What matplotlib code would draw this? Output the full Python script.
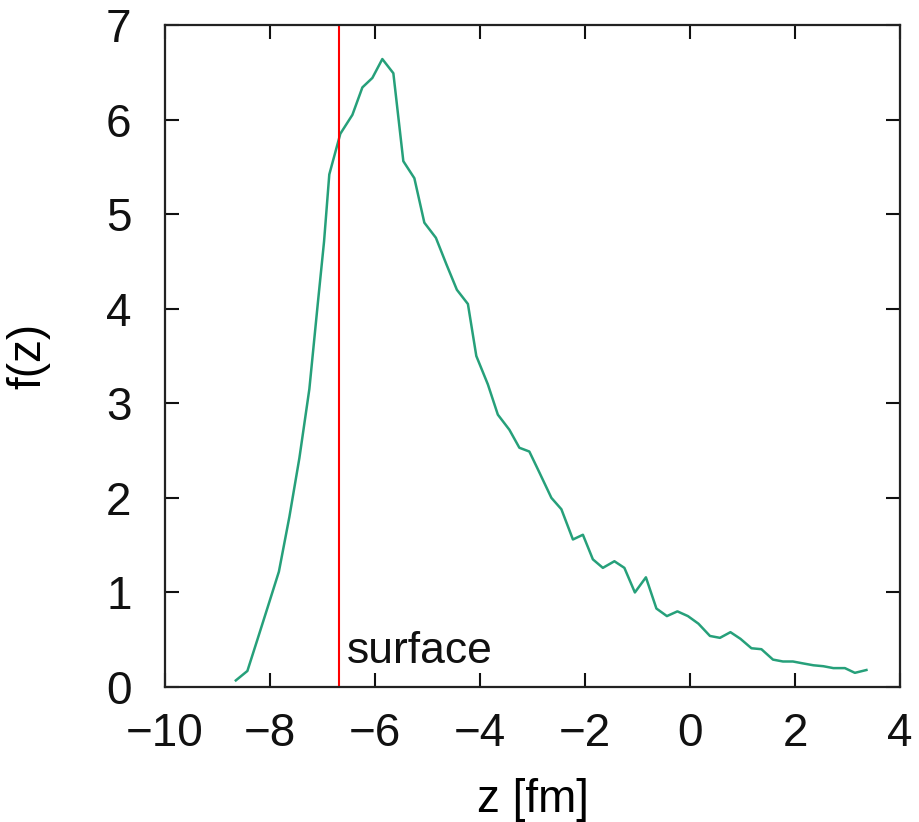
import matplotlib

matplotlib.use("Agg")
import matplotlib.pyplot as plt

# f(z) profile
z_fm = [
    -8.65, -8.43, -8.24, -8.04, -7.83, -7.63, -7.44, -7.25, -7.09, -6.97,
    -6.87, -6.66, -6.43, -6.24, -6.05, -5.86, -5.65, -5.46, -5.25, -5.06,
    -4.84, -4.64, -4.44, -4.23, -4.07, -3.85, -3.66, -3.44, -3.25, -3.06,
    -2.87, -2.64, -2.45, -2.23, -2.04, -1.85, -1.66, -1.44, -1.25, -1.05,
    -0.84, -0.64, -0.44, -0.24, -0.04, 0.16, 0.38, 0.57, 0.77, 0.96,
    1.17, 1.36, 1.58, 1.77, 1.96, 2.15, 2.35, 2.54, 2.73, 2.95,
    3.14, 3.36,
]
f_z = [
    0.07, 0.17, 0.50, 0.85, 1.22, 1.80, 2.42, 3.15, 4.05, 4.71,
    5.42, 5.85, 6.05, 6.34, 6.44, 6.64, 6.49, 5.56, 5.38, 4.91,
    4.75, 4.47, 4.20, 4.05, 3.50, 3.20, 2.88, 2.72, 2.53, 2.49,
    2.27, 2.00, 1.88, 1.56, 1.61, 1.35, 1.26, 1.33, 1.26, 1.00,
    1.16, 0.83, 0.75, 0.80, 0.75, 0.67, 0.54, 0.52, 0.58, 0.51,
    0.41, 0.40, 0.29, 0.27, 0.27, 0.25, 0.23, 0.22, 0.20, 0.20,
    0.15, 0.18,
]
surface_z = -6.68

x_ticks = [-10, -8, -6, -4, -2, 0, 2, 4]
y_ticks = [0, 1, 2, 3, 4, 5, 6, 7]

plt.rcParams["font.family"] = ["Liberation Sans", "DejaVu Sans"]
plt.rcParams["axes.unicode_minus"] = True

fig = plt.figure(figsize=(9.2, 8.22), dpi=100)
ax = fig.add_axes([0.1793, 0.1642, 0.7990, 0.8054])

ax.plot(z_fm, f_z, color="#26a07a", lw=1.8)
ax.axvline(surface_z, color="#ff0000", lw=1.5)
ax.text(surface_z + 0.15, 0.38, "surface", fontsize=32, va="center", ha="left",
        color="#111111")

ax.set_xlim(-10, 4)
ax.set_ylim(0, 7)
ax.set_xticks(x_ticks)
ax.set_yticks(y_ticks)
ax.tick_params(direction="in", length=10, width=1.5, labelsize=33,
               top=True, right=True, pad=18, colors="#111111")
ax.tick_params(axis="y", pad=24)
for sp in ax.spines.values():
    sp.set_linewidth(1.6)
    sp.set_color("#222222")

ax.set_xlabel("z [fm]", fontsize=33, labelpad=16)
ax.set_ylabel("f(z)", fontsize=33, labelpad=40)

fig.savefig("out.png", dpi=100)
